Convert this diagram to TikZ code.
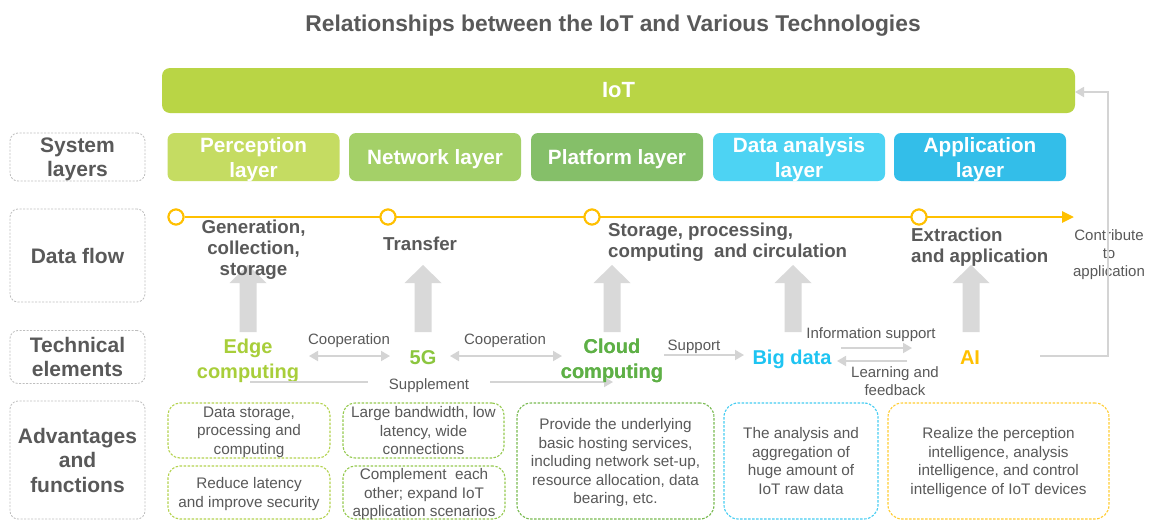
\documentclass[tikz,border=0pt]{standalone}
\usepackage{fontspec}
\setmainfont{Liberation Sans}
\usetikzlibrary{arrows.meta}

\definecolor{txtgray}{RGB}{89,89,89}
\definecolor{labelframe}{RGB}{190,190,190}
\definecolor{iotgreen}{RGB}{185,213,69}
\definecolor{perc}{RGB}{197,220,98}
\definecolor{netw}{RGB}{164,208,104}
\definecolor{plat}{RGB}{133,191,105}
\definecolor{dana}{RGB}{77,211,243}
\definecolor{appl}{RGB}{51,190,233}
\definecolor{flowyellow}{RGB}{255,192,0}
\definecolor{blockgray}{RGB}{217,217,217}
\definecolor{conngray}{RGB}{212,212,212}
\definecolor{edgecol}{RGB}{168,206,58}
\definecolor{fivegcol}{RGB}{140,198,63}
\definecolor{cloudcol}{RGB}{94,176,70}
\definecolor{bigcol}{RGB}{30,196,242}
\definecolor{aicol}{RGB}{255,192,0}
\definecolor{edgeframe}{RGB}{181,211,80}
\definecolor{fivegframe}{RGB}{150,202,80}
\definecolor{cloudframe}{RGB}{120,186,80}
\definecolor{bigframe}{RGB}{70,205,242}
\definecolor{aiframe}{RGB}{255,205,50}

\tikzset{
  rowlabel/.style={draw=labelframe, dash pattern=on 2pt off 1.5pt, line width=0.8pt,
    rounded corners=8pt, minimum width=135pt, text=txtgray, text depth=0pt,
    font=\bfseries\fontsize{21}{24.5}\selectfont, align=center, inner sep=0pt},
  layerbox/.style={rounded corners=7pt, minimum width=172pt, minimum height=48pt,
    text=white, text depth=0pt, font=\bfseries\fontsize{20.7}{25}\selectfont, align=center, inner sep=0pt},
  flowtext/.style={text=txtgray, font=\bfseries\fontsize{18.7}{21}\selectfont, inner sep=0pt},
  flowdot/.style={circle, draw=flowyellow, fill=white, line width=2pt,
    minimum size=15pt, inner sep=0pt},
  techtext/.style={font=\bfseries\fontsize{20}{25}\selectfont, text depth=0pt, align=center, inner sep=0pt},
  smalltext/.style={text=txtgray, font=\fontsize{15}{18}\selectfont, text depth=0pt, align=center, inner sep=0pt},
  conn/.style={draw=conngray, line width=1.8pt},
  ctip/.tip={Triangle[length=9pt,width=10pt]},
  advbox/.style={dash pattern=on 2.5pt off 1.5pt, line width=1.1pt, rounded corners=12pt,
    text=txtgray, text depth=0pt, font=\fontsize{15.3}{18.5}\selectfont, align=center, inner sep=0pt},
}

% grey upward block arrow centred on x = #1
\newcommand\upblock[1]{%
  \fill[blockgray] (#1-8.5,332) -- (#1-8.5,283) -- (#1-18.5,283) -- (#1,265)
    -- (#1+18.5,283) -- (#1+8.5,283) -- (#1+8.5,332) -- cycle;}

\begin{document}
\begin{tikzpicture}[x=1pt,y=-1pt]
\useasboundingbox[fill=white] (0,0) rectangle (1149,520);

% title and IoT bar
\node[text=txtgray, font=\bfseries\fontsize{22.8}{26}\selectfont, text depth=0pt] (title) at (613,23)
  {Relationships between the IoT and Various Technologies};
\node[fill=iotgreen, rounded corners=8pt, minimum width=913pt, minimum height=45pt,
  text=white, font=\bfseries\fontsize{22}{26}\selectfont, inner sep=0pt] (iot) at (618.5,90.5) {IoT};

% row labels
\node[rowlabel, minimum height=48pt] (sys) at (77.5,157) {System\\layers};
\node[rowlabel, minimum height=93pt] (flow) at (77.5,255.5) {Data flow};
\node[rowlabel, minimum height=53pt] (tech) at (77.5,357) {Technical\\elements};
\node[rowlabel, minimum height=118pt] (adv) at (77.5,460) {Advantages\\and\\functions};

% system layers
\node[layerbox, fill=perc] (perc) at (253.5,157) {Perception\\layer};
\node[layerbox, fill=netw] (netw) at (435,157) {Network layer};
\node[layerbox, fill=plat] (plat) at (617,157) {Platform layer};
\node[layerbox, fill=dana] (dana) at (799,157) {Data analysis\\layer};
\node[layerbox, fill=appl] (appl) at (980,157) {Application\\layer};

% block arrows from technical elements up to the data flow
\upblock{248}
\upblock{423}
\upblock{612}
\upblock{793}
\upblock{971}

% data flow line
\coordinate (flowEnd) at (1074,217);
\node[flowdot] (d1) at (176,217) {};
\node[flowdot] (d2) at (388,217) {};
\node[flowdot] (d3) at (592,217) {};
\node[flowdot] (d4) at (919,217) {};
\draw[flowyellow, line width=2.8pt, -{Triangle[length=12pt,width=11pt]}] (d1) -- (flowEnd);
\foreach \d in {d1,d2,d3,d4} \node[flowdot] at (\d) {};

\node[flowtext, align=center] (gen) at (253.5,249.5) {Generation,\\collection,\\storage};
\node[flowtext, anchor=west] (transfer) at (383,243.5) {Transfer};
\node[flowtext, align=left, anchor=west] (store) at (608,242) {Storage, processing,\\computing\ \ and circulation};
\node[flowtext, align=left, anchor=west] (extract) at (911,247) {Extraction\\and application};
\node[smalltext] (contrib) at (1109,253.5) {Contribute\\to\\application};

% feedback from AI to the IoT bar
\coordinate (fbStart) at (1040,356);
\coordinate (fbEnd) at (1075,92);
\draw[conn, -ctip] (fbStart) -- (1108,356) |- (fbEnd);

% technical elements
\node[techtext, text=edgecol] (edge) at (248,359) {Edge\\computing};
\node[techtext, text=fivegcol] (fiveg) at (423,357.5) {5G};
\node[techtext, text=cloudcol] (cloud) at (612,359) {Cloud\\computing};
\node[techtext, text=bigcol] (bigdata) at (792,357) {Big data};
\node[techtext, text=aicol] (ai) at (970,357.5) {AI};

% relations between technical elements
\coordinate (coA1) at (309,356);  \coordinate (coA2) at (390,356);
\coordinate (coB1) at (450,356);  \coordinate (coB2) at (562,356);
\draw[conn, ctip-ctip] (coA1) -- (coA2);
\draw[conn, ctip-ctip] (coB1) -- (coB2);
\node[smalltext] (coopA) at (349,339.5) {Cooperation};
\node[smalltext] (coopB) at (505,339.5) {Cooperation};

\coordinate (supA) at (250,382);  \coordinate (supB) at (613,382);
\draw[conn, -ctip] (supA) -- (supB);
\node[smalltext, fill=white, minimum width=122pt, minimum height=14pt] (supl) at (429,384) {Supplement};

\coordinate (spA) at (664,355);  \coordinate (spB) at (744,355);
\draw[conn, -ctip] (spA) -- (spB);
\node[smalltext] (support) at (694,345.5) {Support};

\coordinate (isA) at (841,348);  \coordinate (isB) at (912,348);
\draw[conn, -ctip] (isA) -- (isB);
\node[smalltext] (infosup) at (871,333) {Information support};

\coordinate (lfA) at (907,361);  \coordinate (lfB) at (837,361);
\draw[conn, -ctip] (lfA) -- (lfB);
\node[smalltext] (learn) at (895,381) {Learning and\\feedback};

% redraw technical label above the supplement connector
\node[techtext, text=cloudcol] at (cloud) {Cloud\\computing};

% advantages and functions
\node[advbox, draw=edgeframe, minimum width=162pt, minimum height=55pt] (edgeA) at (249,430.5)
  {Data storage,\\processing and\\computing};
\node[advbox, draw=edgeframe, minimum width=162pt, minimum height=53pt] (edgeB) at (249,492.5)
  {Reduce latency\\and improve security};
\node[advbox, draw=fivegframe, minimum width=161pt, minimum height=55pt] (fivegA) at (423.5,430.5)
  {Large bandwidth, low\\latency, wide\\connections};
\node[advbox, draw=fivegframe, minimum width=162pt, minimum height=53pt] (fivegB) at (424,492.5)
  {Complement\ \ each\\other; expand IoT\\application scenarios};
\node[advbox, draw=cloudframe, minimum width=197pt, minimum height=116pt, rounded corners=14pt] (cloudA) at (615.5,461)
  {Provide the underlying\\basic hosting services,\\including network set-up,\\resource allocation, data\\bearing, etc.};
\node[advbox, draw=bigframe, minimum width=154pt, minimum height=116pt, rounded corners=14pt] (bigA) at (801,461)
  {The analysis and\\aggregation of\\huge amount of\\IoT raw data};
\node[advbox, draw=aiframe, minimum width=221pt, minimum height=116pt, rounded corners=14pt] (aiA) at (998.5,461)
  {Realize the perception\\intelligence, analysis\\intelligence, and control\\intelligence of IoT devices};

\end{tikzpicture}
\end{document}
